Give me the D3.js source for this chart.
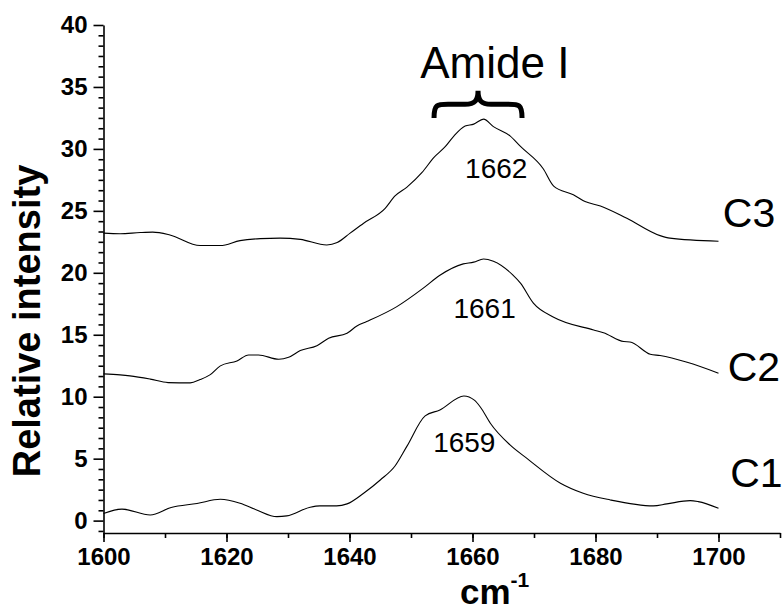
<!DOCTYPE html>
<html>
<head>
<meta charset="utf-8">
<script src="https://cdn.jsdelivr.net/npm/d3@7/dist/d3.min.js"></script>
<style>
  body { margin: 0; background: #fff; }
  svg { display: block; font-family: "Liberation Sans", Arial, sans-serif; }
  .axis path, .axis line { stroke: #000; stroke-width: 1.6; }
  .axis text { font-size: 24px; font-weight: bold; fill: #000; }
</style>
</head>
<body>
<div class="wrapper"></div>
<script>
// spectra (wavenumber, relative intensity)
var c1Wn  = [1600, 1603, 1607.6, 1611, 1615.2, 1619, 1622.2, 1624.9, 1628.2, 1629.8, 1633.6, 1635.2, 1637.9, 1639.6, 1642.3, 1645, 1647.4, 1649.3, 1652.3, 1654.7, 1658.6, 1660.3, 1661.3, 1662.9, 1666.1, 1668.8, 1674.3, 1678, 1682.4, 1689.4, 1691.6, 1695.4, 1696.7, 1700];
var c1Int = [0.57, 0.93, 0.45, 1.06, 1.38, 1.72, 1.40, 0.86, 0.32, 0.38, 1.08, 1.19, 1.19, 1.35, 2.21, 3.28, 4.41, 5.97, 8.45, 8.93, 10.06, 9.72, 9.15, 7.86, 6.11, 5.04, 3.02, 2.21, 1.67, 1.19, 1.35, 1.61, 1.53, 1.0];

var c2Wn  = [1600, 1602.7, 1604.3, 1607.6, 1610.5, 1614.1, 1615.7, 1617.3, 1619, 1621.7, 1623.6, 1625.2, 1628.5, 1630.1, 1632, 1634.7, 1636.6, 1639.6, 1641.2, 1642.8, 1647.7, 1652, 1654.7, 1658.5, 1660.2, 1661.8, 1663.4, 1666.5, 1667.8, 1669.9, 1673.2, 1679.7, 1681.3, 1684.6, 1685.6, 1688.9, 1690.5, 1694.9, 1700];
var c2Int = [11.84, 11.76, 11.68, 11.42, 11.14, 11.12, 11.38, 11.76, 12.49, 12.89, 13.37, 13.37, 13.02, 13.18, 13.72, 14.12, 14.72, 15.12, 15.71, 16.06, 17.27, 18.76, 19.8, 20.72, 20.86, 21.12, 20.93, 19.85, 19.16, 17.55, 16.42, 15.39, 15.17, 14.45, 14.42, 13.43, 13.32, 12.78, 11.9];

var c3Wn  = [1600, 1602.7, 1606, 1608, 1610.8, 1615.7, 1619, 1622.2, 1625.5, 1628.7, 1632, 1636.3, 1638, 1640.1, 1642.3, 1645.8, 1647.4, 1649.3, 1651.8, 1653.7, 1655.6, 1656.9, 1658.8, 1660.2, 1661.8, 1663.4, 1666.1, 1667.8, 1671.5, 1673.2, 1676.4, 1678.3, 1680.8, 1685.1, 1690.5, 1692.1, 1700];
var c3Int = [23.2, 23.15, 23.25, 23.28, 23.05, 22.2, 22.2, 22.6, 22.76, 22.8, 22.7, 22.25, 22.44, 23.2, 24.0, 25.2, 26.2, 26.9, 28.1, 29.3, 30.2, 31.0, 31.85, 32.0, 32.4, 31.8, 31.05, 30.2, 28.4, 27.0, 26.3, 25.75, 25.4, 24.4, 23.0, 22.8, 22.55];

var seriesNames = ["C1", "C2", "C3"];
var peakLabels = ["1659", "1661", "1662"];
var xTicks = [1600, 1620, 1640, 1660, 1680, 1700];
var yTicks = [0, 5, 10, 15, 20, 25, 30, 35, 40];

var width = 784,
    height = 612;

var x = d3.scaleLinear().domain([1600, 1710]).range([103.5, 780]);
var y = d3.scaleLinear().domain([-1, 40]).range([533, 25]);

var svg = d3.select(".wrapper").append("svg")
    .attr("width", width)
    .attr("height", height);

// minor ticks first, labelled axes on top
var xMinor = d3.range(1600, 1711, 10);
var yMinor = d3.range(-5 / 6, 40, 5 / 6).filter(function(v) { return Math.abs(v / 5 - Math.round(v / 5)) > 0.01; });

svg.append("g")
    .attr("class", "axis")
    .attr("transform", "translate(0," + y(-1) + ")")
    .call(d3.axisBottom(x).tickValues(xMinor).tickSize(5).tickSizeOuter(0).tickFormat(""));

svg.append("g")
    .attr("class", "axis")
    .attr("transform", "translate(" + x(1600) + ",0)")
    .call(d3.axisLeft(y).tickValues(yMinor).tickSize(5).tickSizeOuter(0).tickFormat(""));

var xAxis = svg.append("g")
    .attr("class", "axis")
    .attr("transform", "translate(0," + y(-1) + ")")
    .call(d3.axisBottom(x).tickValues(xTicks).tickSize(9).tickSizeOuter(0).tickPadding(6).tickFormat(d3.format("d")));
xAxis.select(".domain").remove();

var yAxis = svg.append("g")
    .attr("class", "axis")
    .attr("transform", "translate(" + x(1600) + ",0)")
    .call(d3.axisLeft(y).tickValues(yTicks).tickSize(10).tickSizeOuter(0).tickPadding(6));
yAxis.select(".domain").remove();

// spectra
var line = d3.line()
    .x(function(d) { return x(d[0]); })
    .y(function(d) { return y(d[1]); })
    .curve(d3.curveMonotoneX);

var spectra = [d3.zip(c1Wn, c1Int), d3.zip(c2Wn, c2Int), d3.zip(c3Wn, c3Int)];

svg.selectAll("path.spectrum")
    .data(spectra)
  .enter().append("path")
    .attr("class", "spectrum")
    .attr("d", line)
    .attr("fill", "none")
    .attr("stroke", "#000")
    .attr("stroke-width", 1.1);

// series names at the right end
var nameAt = [[1701.9, 2.7], [1701.5, 11.3], [1700.7, 23.7]];
svg.selectAll("text.series")
    .data(seriesNames)
  .enter().append("text")
    .attr("class", "series")
    .attr("x", function(d, i) { return x(nameAt[i][0]); })
    .attr("y", function(d, i) { return y(nameAt[i][1]); })
    .style("font-size", "41px")
    .text(function(d) { return d; });

// peak positions
var peakAt = [[1653.6, 5.55], [1656.9, 16.36], [1658.8, 27.66]];
svg.selectAll("text.peak")
    .data(peakLabels)
  .enter().append("text")
    .attr("class", "peak")
    .attr("x", function(d, i) { return x(peakAt[i][0]); })
    .attr("y", function(d, i) { return y(peakAt[i][1]); })
    .style("font-size", "28px")
    .text(function(d) { return d; });

// Amide I bracket
var cx = x(1660.9), ty = y(34.7), bh = y(32.5) - ty, bw = 44;
svg.append("path")
    .attr("d", "M" + (cx - bw) + "," + (ty + bh) +
        "C" + (cx - bw) + "," + (ty + bh * 0.5) + " " + (cx - bw + 3) + "," + (ty + bh * 0.5) + " " + (cx - bw + 14) + "," + (ty + bh * 0.5) +
        "L" + (cx - 13) + "," + (ty + bh * 0.5) +
        "C" + (cx - 3) + "," + (ty + bh * 0.5) + " " + cx + "," + (ty + bh * 0.35) + " " + cx + "," + ty +
        "C" + cx + "," + (ty + bh * 0.35) + " " + (cx + 3) + "," + (ty + bh * 0.5) + " " + (cx + 13) + "," + (ty + bh * 0.5) +
        "L" + (cx + bw - 14) + "," + (ty + bh * 0.5) +
        "C" + (cx + bw - 3) + "," + (ty + bh * 0.5) + " " + (cx + bw) + "," + (ty + bh * 0.5) + " " + (cx + bw) + "," + (ty + bh))
    .attr("fill", "none")
    .attr("stroke", "#000")
    .attr("stroke-width", 5);

svg.append("text")
    .attr("x", x(1651.5))
    .attr("y", y(35.7))
    .style("font-size", "44px")
    .text("Amide I");

// axis titles
svg.append("text")
    .attr("transform", "translate(40,321) rotate(-90)")
    .attr("text-anchor", "middle")
    .style("font-size", "38px")
    .style("font-weight", "bold")
    .text("Relative intensity");

var xTitle = svg.append("text")
    .attr("x", 460)
    .attr("y", 604)
    .style("font-size", "35px")
    .style("font-weight", "bold");
xTitle.append("tspan").text("cm");
xTitle.append("tspan")
    .attr("dy", -17)
    .style("font-size", "21px")
    .text("-1");
</script>
</body>
</html>
